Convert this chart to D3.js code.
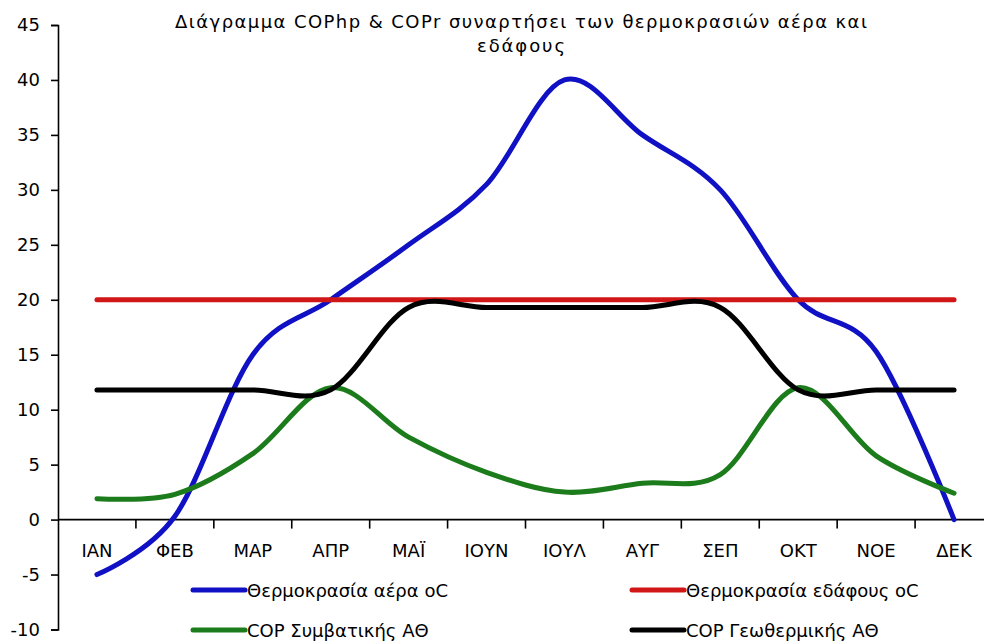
<!DOCTYPE html>
<html>
<head>
<meta charset="utf-8">
<script src="https://cdn.jsdelivr.net/npm/d3@7"></script>
<style>
  body { margin: 0; background: #fff; }
  svg { display: block; font-family: "DejaVu Sans", sans-serif; }
</style>
</head>
<body>
<svg width="984" height="644"></svg>
<script>
// data
const months = ["ΙΑΝ", "ΦΕΒ", "ΜΑΡ", "ΑΠΡ", "ΜΑΪ", "ΙΟΥΝ", "ΙΟΥΛ", "ΑΥΓ", "ΣΕΠ", "ΟΚΤ", "ΝΟΕ", "ΔΕΚ"];
const airTemp = [-5, 0.3, 15, 20, 25, 30.5, 40, 35, 30, 20, 15.3, 0];
const groundTemp = [20, 20, 20, 20, 20, 20, 20, 20, 20, 20, 20, 20];
const copConventional = [1.9, 2.3, 6, 12, 7.5, 4.3, 2.5, 3.3, 4.1, 12, 5.8, 2.4];
const copGeothermal = [11.8, 11.8, 11.8, 11.8, 19.3, 19.3, 19.3, 19.3, 19.3, 11.8, 11.8, 11.8];
const yTicks = [-10, -5, 0, 5, 10, 15, 20, 25, 30, 35, 40, 45];
const titleLines = ["Διάγραμμα COPhp & COPr συναρτήσει των θερμοκρασιών αέρα και", "εδάφους"];
const titleWidths = [692, 88];

const series = [
    {name: "Θερμοκρασία αέρα oC", values: airTemp, color: "#1010c4"},
    {name: "Θερμοκρασία εδάφους oC", values: groundTemp, color: "#d01616"},
    {name: "COP Συμβατικής ΑΘ", values: copConventional, color: "#1c7c1c"},
    {name: "COP Γεωθερμικής ΑΘ", values: copGeothermal, color: "#000000"}
];

let svg = d3.select("svg");

const plot = {left: 58, right: 993, top: 25, bottom: 629.5};

// category axis, points in the middle of each category
let x = d3.scalePoint().domain(months).range([plot.left, plot.right]).padding(0.5);
let y = d3.scaleLinear().domain([-10, 45]).range([plot.bottom, plot.top]);

// title (the original is drawn wide, so stretch it to the same width)
svg.append("g").selectAll("text")
    .data(titleLines)
    .enter().append("text")
    .attr("x", 521)
    .attr("y", (d, i) => 28 + i * 24)
    .attr("text-anchor", "middle")
    .attr("font-size", 18)
    .attr("textLength", (d, i) => titleWidths[i])
    .attr("lengthAdjust", "spacing")
    .text(d => d);

// y axis
let yAxis = svg.append("g")
    .attr("transform", "translate(" + plot.left + ",0)")
    .call(d3.axisLeft(y).tickValues(yTicks).tickSize(7).tickPadding(11).tickFormat(d => String(d)));
yAxis.select(".domain").attr("stroke", "#000").attr("stroke-width", 1.6);
yAxis.selectAll(".tick line").attr("stroke", "#000").attr("stroke-width", 1.6);
yAxis.selectAll("text").attr("font-size", 18).attr("fill", "#000").attr("font-family", "DejaVu Sans");

// x axis along zero, ticks between categories
let step = x.step();
let xAxis = svg.append("g").attr("transform", "translate(0," + y(0) + ")");
xAxis.append("line")
    .attr("x1", plot.left).attr("x2", plot.right)
    .attr("stroke", "#000").attr("stroke-width", 1.6);
xAxis.selectAll(".xtick")
    .data(months.slice(1))
    .enter().append("line")
    .attr("class", "xtick")
    .attr("x1", d => x(d) - step / 2)
    .attr("x2", d => x(d) - step / 2)
    .attr("y1", 0).attr("y2", 9)
    .attr("stroke", "#000").attr("stroke-width", 1.6);
xAxis.selectAll(".xlabel")
    .data(months)
    .enter().append("text")
    .attr("class", "xlabel")
    .attr("x", d => x(d))
    .attr("y", 37)
    .attr("text-anchor", "middle")
    .attr("font-size", 18)
    .text(d => d);

// smoothed lines like the spreadsheet
let line = d3.line()
    .x((d, i) => x(months[i]))
    .y(d => y(d))
    .curve(d3.curveCardinal.tension(0));

svg.append("g").selectAll("path")
    .data(series)
    .enter().append("path")
    .attr("fill", "none")
    .attr("stroke", d => d.color)
    .attr("stroke-width", 5)
    .attr("stroke-linecap", "round")
    .attr("stroke-linejoin", "round")
    .attr("d", d => line(d.values));

// legend, two columns
let legend = svg.append("g");
let items = legend.selectAll("g")
    .data(series)
    .enter().append("g")
    .attr("transform", (d, i) => "translate(" + (i % 2 === 0 ? 193 : 632) + "," + (590 + Math.floor(i / 2) * 40) + ")");
items.append("line")
    .attr("x1", 0).attr("x2", 52)
    .attr("stroke", d => d.color)
    .attr("stroke-width", 5)
    .attr("stroke-linecap", "round");
items.append("text")
    .attr("x", 54)
    .attr("y", 7)
    .attr("font-size", 18)
    .text(d => d.name);
</script>
</body>
</html>
